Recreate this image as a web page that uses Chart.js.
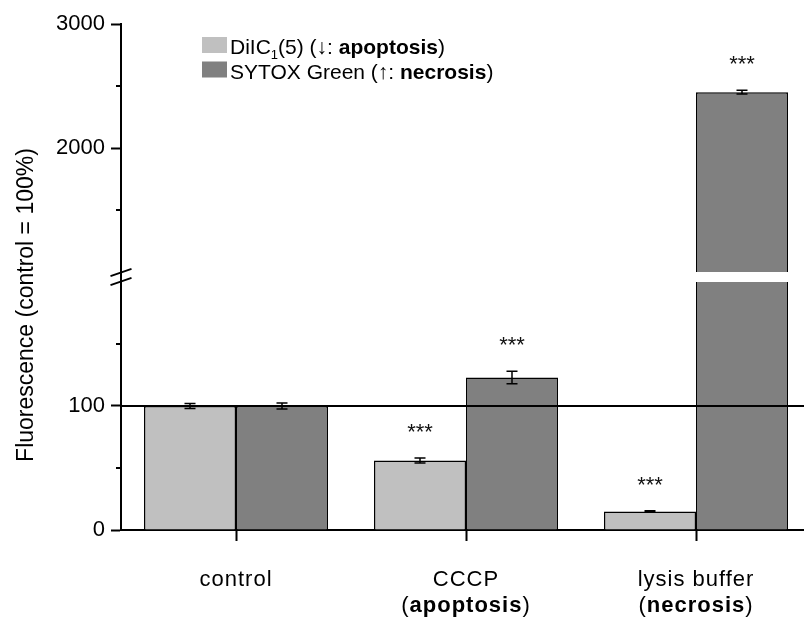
<!DOCTYPE html>
<html>
<head>
<meta charset="utf-8">
<title>Fluorescence</title>
<script src="https://cdn.jsdelivr.net/npm/chart.js@4.4.1/dist/chart.umd.min.js"></script>
<style>
  html, body { margin: 0; padding: 0; background: #fff; overflow: hidden; }
  #wrap { width: 804px; height: 617px; overflow: hidden; }
  canvas { display: block; }
</style>
</head>
<body>
<!-- the x axis runs a little past the right edge, so the canvas is wider than the frame -->
<div id="wrap"><canvas id="grafico" width="811" height="617"></canvas></div>
<script>
// x groups, each a list of lines made of text runs (b = bold, sub = subscript)
const categoryLines = [
  [[{ t: 'control' }]],
  [[{ t: 'CCCP' }], [{ t: '(' }, { t: 'apoptosis', b: true }, { t: ')' }]],
  [[{ t: 'lysis buffer' }], [{ t: '(' }, { t: 'necrosis', b: true }, { t: ')' }]]
];

const diicValues = [100, 56, 15];
const diicErrors = [2, 2, 0.5];
const diicStars = ['', '***', '***'];

const sytoxValues = [100, 123, 2450];
const sytoxErrors = [2.5, 5, 15];
const sytoxStars = ['', '***', '***'];

const seriesNames = [
  [{ t: 'DiIC' }, { t: '1', sub: true }, { t: '(5) (↓: ' }, { t: 'apoptosis', b: true }, { t: ')' }],
  [{ t: 'SYTOX Green (↑: ' }, { t: 'necrosis', b: true }, { t: ')' }]
];
const seriesColors = ['#c0c0c0', '#808080'];

// broken y axis: lower part 0-204, upper part 960-3000
const lowRange = [0, 204];
const highRange = [960, 3000];
const lowCap = 200;     // lower piece of a bar stops here
const highBase = 1000;  // upper piece of a bar starts here
const lowTicks = [0, 100];
const lowMinor = [50, 150];
const highTicks = [2000, 3000];
const highMinor = [1500, 2500];

const refValue = 100;
const yTitle = 'Fluorescence (control = 100%)';

const FONT = '"Liberation Sans", Arial, Helvetica, sans-serif';
Chart.defaults.font.family = FONT;
Chart.defaults.font.size = 22;
Chart.defaults.color = '#000';

function lowPart(values) {
  return values.map(v => Math.min(v, lowCap));
}
function highPart(values) {
  return values.map(v => (v > highBase ? [highBase, v] : null));
}

function barSet(name, data, values, color, stack, axis) {
  return {
    label: name,
    data: data,
    yAxisID: axis,
    stack: stack,
    backgroundColor: color,
    borderColor: '#000',
    // the lower piece of a cut bar is left open at the top
    borderWidth: c => (axis === 'yLow' && values[c.dataIndex] > lowCap
      ? { left: 1.5, right: 1.5, top: 0, bottom: 0 }
      : 1.5),
    borderSkipped: 'start',
    categoryPercentage: 0.8,
    barPercentage: 1
  };
}

// text helpers
function runFont(r, size) {
  return (r.b ? 'bold ' : '') + (r.sub ? Math.round(size * 0.62) : size) + 'px ' + FONT;
}
function runsWidth(ctx, runs, size) {
  let w = 0;
  runs.forEach(r => { ctx.font = runFont(r, size); w += ctx.measureText(r.t).width; });
  return w;
}
function drawRuns(ctx, runs, x, y, size, center) {
  let cx = center ? x - runsWidth(ctx, runs, size) / 2 : x;
  ctx.textAlign = 'left';
  ctx.textBaseline = 'alphabetic';
  runs.forEach(r => {
    ctx.font = runFont(r, size);
    ctx.fillText(r.t, cx, r.sub ? y + size * 0.22 : y);
    cx += ctx.measureText(r.t).width;
  });
}

const decor = {
  id: 'decor',
  afterDatasetsDraw(chart) {
    const ctx = chart.ctx;
    const area = chart.chartArea;
    const yLow = chart.scales.yLow;
    const yHigh = chart.scales.yHigh;

    // 100 % line
    ctx.save();
    ctx.strokeStyle = '#000';
    ctx.lineWidth = 2;
    const yr = yLow.getPixelForValue(refValue);
    ctx.beginPath();
    ctx.moveTo(area.left, yr);
    ctx.lineTo(area.right, yr);
    ctx.stroke();

    // error bars and significance stars
    const series = [
      { values: diicValues, errors: diicErrors, stars: diicStars },
      { values: sytoxValues, errors: sytoxErrors, stars: sytoxStars }
    ];
    ctx.lineWidth = 1.5;
    series.forEach((s, k) => {
      s.values.forEach((v, i) => {
        const high = v > lowCap;
        const scale = high ? yHigh : yLow;
        const bar = chart.getDatasetMeta(high ? k + 2 : k).data[i];
        const x = bar.x;
        const yTop = scale.getPixelForValue(v + s.errors[i]);
        const yBot = scale.getPixelForValue(v - s.errors[i]);
        ctx.beginPath();
        ctx.moveTo(x, yTop); ctx.lineTo(x, yBot);
        ctx.moveTo(x - 5.5, yTop); ctx.lineTo(x + 5.5, yTop);
        ctx.moveTo(x - 5.5, yBot); ctx.lineTo(x + 5.5, yBot);
        ctx.stroke();
        if (s.stars[i]) {
          ctx.fillStyle = '#111';
          ctx.font = '22px ' + FONT;
          ctx.textAlign = 'center';
          ctx.textBaseline = 'alphabetic';
          ctx.fillText(s.stars[i], x, yTop - 19);
        }
      });
    });
    ctx.restore();
  },
  afterDraw(chart) {
    const ctx = chart.ctx;
    const area = chart.chartArea;
    const yLow = chart.scales.yLow;
    const yHigh = chart.scales.yHigh;
    const xs = chart.scales.x;
    const axisX = yLow.right;
    ctx.save();
    ctx.strokeStyle = '#000';
    ctx.fillStyle = '#000';
    ctx.lineWidth = 2;

    // short minor ticks
    ctx.beginPath();
    lowMinor.forEach(v => {
      const y = yLow.getPixelForValue(v);
      ctx.moveTo(axisX - 5, y); ctx.lineTo(axisX, y);
    });
    highMinor.forEach(v => {
      const y = yHigh.getPixelForValue(v);
      ctx.moveTo(axisX - 5, y); ctx.lineTo(axisX, y);
    });
    ctx.stroke();

    // break marks where the two parts of the axis meet
    const yb = yLow.top;
    ctx.lineWidth = 1.8;
    ctx.beginPath();
    [-4.5, 4.5].forEach(d => {
      ctx.moveTo(axisX - 10.5, yb + d + 3.7);
      ctx.lineTo(axisX + 10.5, yb + d - 3.7);
    });
    ctx.stroke();

    // group labels
    ctx.letterSpacing = '1px';
    categoryLines.forEach((lines, i) => {
      const x = xs.getPixelForTick(i);
      lines.forEach((runs, j) => drawRuns(ctx, runs, x, area.bottom + 56 + j * 26, 22, true));
    });
    ctx.letterSpacing = '0px';

    // y title
    ctx.save();
    ctx.translate(33, (area.top + area.bottom) / 2 + 28);
    ctx.rotate(-Math.PI / 2);
    ctx.font = '23px ' + FONT;
    ctx.textAlign = 'center';
    ctx.textBaseline = 'alphabetic';
    ctx.fillText(yTitle, 0, 0);
    ctx.restore();

    // legend
    seriesNames.forEach((runs, i) => {
      const top = 37 + i * 24.5;
      ctx.fillStyle = seriesColors[i];
      ctx.fillRect(202, top, 25, 16);
      ctx.fillStyle = '#000';
      drawRuns(ctx, runs, 230, top + 17, 21, false);
    });
    ctx.restore();
  }
};

const yAxisCommon = {
  type: 'linear',
  position: 'left',
  stack: 'fluo',
  stackWeight: 1,
  stacked: false,
  border: { display: true, color: '#000', width: 2 },
  grid: { drawOnChartArea: false, drawTicks: true, tickLength: 10, tickColor: '#000', tickWidth: 2 },
  ticks: { padding: 6, font: { size: 22 }, color: '#000', callback: v => String(v) },
  afterFit: scale => { scale.width = 121; }
};

new Chart(document.getElementById('grafico'), {
  type: 'bar',
  data: {
    labels: categoryLines.map(lines => lines.map(runs => runs.map(r => r.t).join('')).join(' ')),
    datasets: [
      barSet('DiIC1(5)', lowPart(diicValues), diicValues, seriesColors[0], 'diic', 'yLow'),
      barSet('SYTOX Green', lowPart(sytoxValues), sytoxValues, seriesColors[1], 'sytox', 'yLow'),
      barSet('DiIC1(5)', highPart(diicValues), diicValues, seriesColors[0], 'diic', 'yHigh'),
      barSet('SYTOX Green', highPart(sytoxValues), sytoxValues, seriesColors[1], 'sytox', 'yHigh')
    ]
  },
  options: {
    responsive: false,
    animation: false,
    layout: { padding: { top: 24, right: 0, bottom: 0, left: 0 } },
    plugins: { legend: { display: false }, tooltip: { enabled: false } },
    scales: {
      x: {
        offset: true,
        border: { display: true, color: '#000', width: 2 },
        grid: { offset: false, drawOnChartArea: false, drawTicks: true, tickLength: 11, tickColor: '#000', tickWidth: 2 },
        ticks: { display: false },
        afterFit: scale => { scale.height = 87; }
      },
      yLow: Object.assign({}, yAxisCommon, {
        min: lowRange[0],
        max: lowRange[1],
        afterBuildTicks: scale => { scale.ticks = lowTicks.map(v => ({ value: v })); }
      }),
      yHigh: Object.assign({}, yAxisCommon, {
        min: highRange[0],
        max: highRange[1],
        afterBuildTicks: scale => { scale.ticks = highTicks.map(v => ({ value: v })); }
      })
    }
  },
  plugins: [decor]
});
</script>
</body>
</html>
